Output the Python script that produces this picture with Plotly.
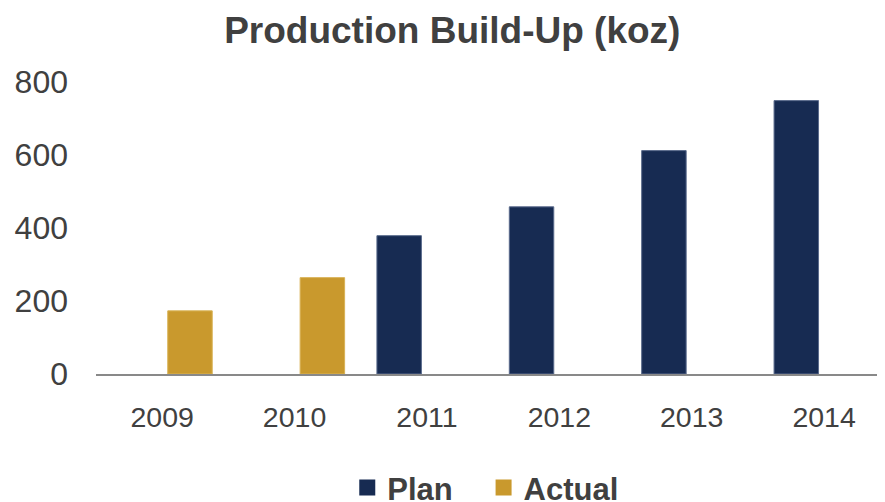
import plotly.graph_objects as go

years = ["2009", "2010", "2011", "2012", "2013", "2014"]
plan = [None, None, 379, 458, 612, 749]
actual = [173, 264, None, None, None, None]

navy = "#172b52"
gold = "#c9992d"

fig = go.Figure()

fig.add_trace(go.Bar(x=years, y=plan, name="Plan", showlegend=False,
                     marker=dict(color=navy, line=dict(color="#5a6b8c", width=1))))
fig.add_trace(go.Bar(x=years, y=actual, name="Actual", showlegend=False,
                     marker=dict(color=gold, line=dict(color="#d8b255", width=1))))

# legend entries with bigger square keys
fig.add_trace(go.Scatter(x=[None], y=[None], mode="markers", name="<b>Plan</b>   ",
                         marker=dict(symbol="square", size=17, color=navy)))
fig.add_trace(go.Scatter(x=[None], y=[None], mode="markers", name="<b>Actual</b>",
                         marker=dict(symbol="square", size=17, color=gold)))

fig.update_layout(
    width=885, height=502,
    margin=dict(l=88, r=8, t=74, b=136),
    paper_bgcolor="white", plot_bgcolor="white",
    font=dict(family="Liberation Sans, Arial, sans-serif", color="#404040"),
    title=dict(text="<b>Production Build-Up (koz)</b>", font=dict(size=37, color="#404040"),
               x=0.502, xanchor="center", y=0.956, yanchor="middle"),
    barmode="group", bargap=0.16, bargroupgap=0.2,
    legend=dict(orientation="h", x=0.494, xanchor="center", xref="paper",
                y=0.044, yanchor="middle", yref="container",
                font=dict(size=31, color="#404040"),
                traceorder="normal", itemwidth=30),
    showlegend=True,
)

fig.update_xaxes(range=[-0.5, 5.46], showline=True, linecolor="#898989", linewidth=2,
                 showgrid=False, ticks="", tickfont=dict(size=28.5, color="#404040"),
                 ticklabelstandoff=17, automargin=False)
fig.update_yaxes(range=[0, 800], dtick=200, showgrid=False, zeroline=False, showline=False,
                 tickfont=dict(size=32, color="#404040"), ticklabelstandoff=27, automargin=False)

fig.write_html("out.html")
